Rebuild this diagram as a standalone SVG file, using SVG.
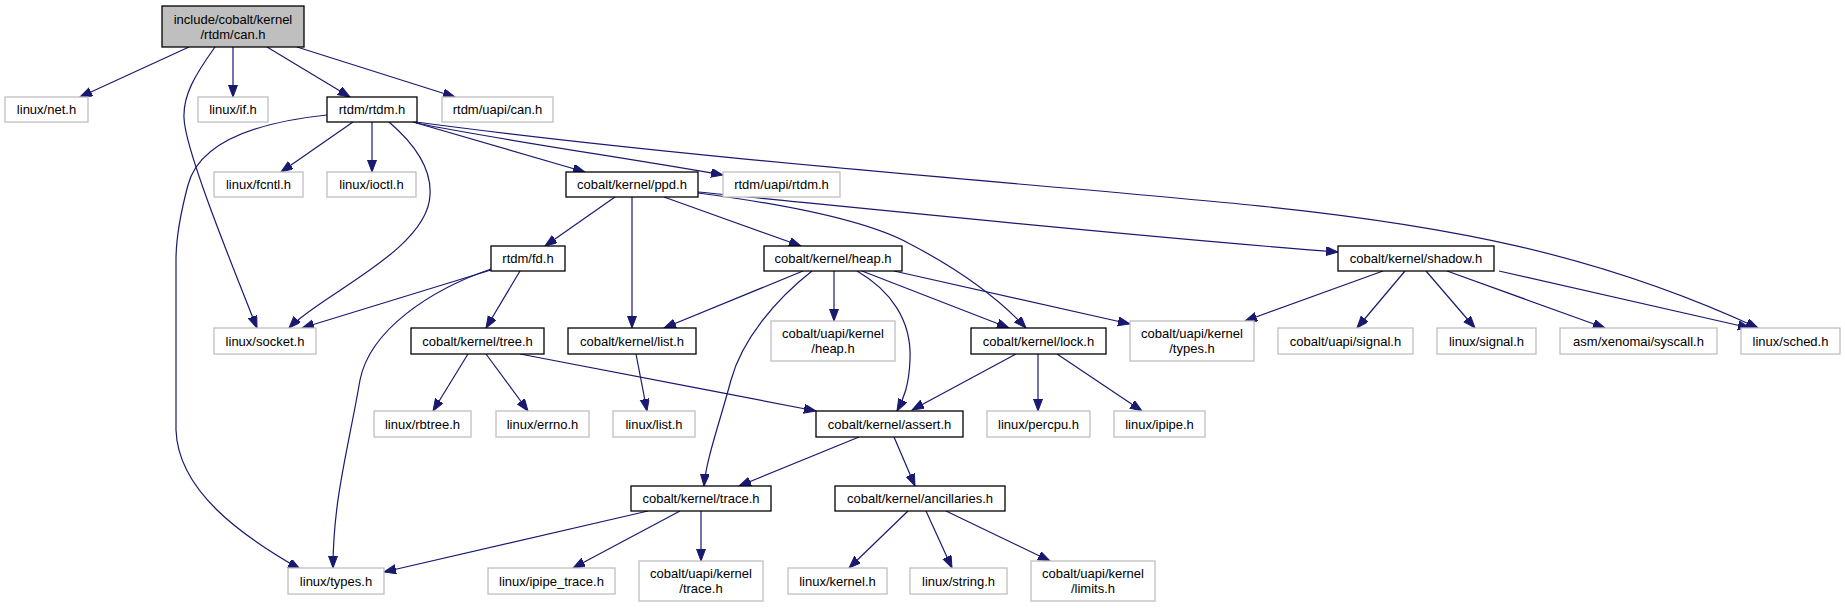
<svg xmlns="http://www.w3.org/2000/svg" width="1845" height="608" viewBox="0 0 1845 608">
<style>
.n rect{fill:#fff;stroke-width:1.3}
.g rect{stroke:#bfbfbf}
.b rect{stroke:#000}
.r rect{fill:#bfbfbf;stroke:#000}
text{font-family:"Liberation Sans",Arial,sans-serif;font-size:13px;fill:#000;text-anchor:middle}
#edges path{fill:none;stroke:#191970;stroke-width:1.2;marker-end:url(#ah)}
</style>
<defs>
<marker id="ah" markerWidth="13" markerHeight="10" refX="12" refY="4.5" orient="auto" markerUnits="userSpaceOnUse">
<path d="M0,0 L12,4.5 L0,9 z" fill="#191970" stroke="#191970" stroke-width="1"/>
</marker>
</defs>
<rect width="1845" height="608" fill="#fff"/>
<g id="edges">
<path d="M189,47 L80,97"/>
<path d="M215,47 C195,75 183,95 184,118 C185,150 232,265 257,328"/>
<path d="M233,47 L233,97"/>
<path d="M267,47 L350,97"/>
<path d="M297,47 L455,97"/>
<path d="M327,115 C260,122 200,140 188,185 C184,200 176,230 176,260 L176,430 C178,490 240,535 300,569"/>
<path d="M353,122 L281,172"/>
<path d="M372,122 L372,172"/>
<path d="M389,122 C410,140 432,165 430,195 C428,250 320,295 289,328"/>
<path d="M413,122 L585,172"/>
<path d="M416,123 C500,140 640,160 723,175"/>
<path d="M416,122 C700,160 1050,185 1250,205 C1450,225 1600,255 1758,328"/>
<path d="M615,197 L545,246"/>
<path d="M632,197 L632,328"/>
<path d="M664,197 L801,246"/>
<path d="M698,193 C790,205 870,222 910,244 C960,270 1000,300 1026,328"/>
<path d="M698,192 C900,212 1150,238 1338,252"/>
<path d="M491,270 L302,328"/>
<path d="M491,269 C430,290 370,330 360,380 C348,450 333,500 333,568"/>
<path d="M520,271 L486,328"/>
<path d="M803,271 L664,328"/>
<path d="M812,271 C775,300 742,340 731,380 C719,425 706,460 704,486"/>
<path d="M834,271 L834,321"/>
<path d="M857,271 C890,290 912,320 910,360 C909,385 904,398 897,411"/>
<path d="M862,271 L1009,328"/>
<path d="M894,271 L1130,324"/>
<path d="M1383,271 L1245,321"/>
<path d="M1405,271 L1357,328"/>
<path d="M1426,271 L1475,328"/>
<path d="M1447,271 L1605,328"/>
<path d="M1499,271 L1750,328"/>
<path d="M468,354 L433,411"/>
<path d="M486,354 L528,411"/>
<path d="M520,354 C600,370 720,392 816,411"/>
<path d="M636,354 L647,411"/>
<path d="M1016,354 L912,410"/>
<path d="M1038,354 L1038,411"/>
<path d="M1057,354 L1142,411"/>
<path d="M859,437 L739,486"/>
<path d="M894,437 L915,486"/>
<path d="M648,511 L384,572"/>
<path d="M680,511 L573,568"/>
<path d="M701,511 L701,561"/>
<path d="M908,511 L849,568"/>
<path d="M926,511 L952,568"/>
<path d="M946,511 L1050,561"/>
</g>
<g id="n_root" class="n r"><rect x="162" y="6" width="142" height="41"/><text x="233" y="23.5">include/cobalt/kernel</text><text x="233" y="38.5">/rtdm/can.h</text></g>
<g id="n_net" class="n g"><rect x="5" y="97" width="83" height="25"/><text x="46.5" y="114">linux/net.h</text></g>
<g id="n_if" class="n g"><rect x="198" y="97" width="70" height="25"/><text x="233" y="114">linux/if.h</text></g>
<g id="n_rtdm" class="n b"><rect x="327" y="97" width="90" height="25"/><text x="372" y="114">rtdm/rtdm.h</text></g>
<g id="n_ucan" class="n g"><rect x="442" y="97" width="111" height="25"/><text x="497.5" y="114">rtdm/uapi/can.h</text></g>
<g id="n_fcntl" class="n g"><rect x="214" y="172" width="89" height="25"/><text x="258.5" y="189">linux/fcntl.h</text></g>
<g id="n_ioctl" class="n g"><rect x="327" y="172" width="89" height="25"/><text x="371.5" y="189">linux/ioctl.h</text></g>
<g id="n_ppd" class="n b"><rect x="566" y="172" width="132" height="25"/><text x="632" y="189">cobalt/kernel/ppd.h</text></g>
<g id="n_urtdm" class="n g"><rect x="723" y="172" width="117" height="25"/><text x="781.5" y="189">rtdm/uapi/rtdm.h</text></g>
<g id="n_fd" class="n b"><rect x="491" y="246" width="74" height="25"/><text x="528" y="263">rtdm/fd.h</text></g>
<g id="n_heap" class="n b"><rect x="764" y="246" width="138" height="25"/><text x="833" y="263">cobalt/kernel/heap.h</text></g>
<g id="n_shadow" class="n b"><rect x="1338" y="246" width="156" height="25"/><text x="1416" y="263">cobalt/kernel/shadow.h</text></g>
<g id="n_socket" class="n g"><rect x="214" y="328" width="102" height="26"/><text x="265" y="345.5">linux/socket.h</text></g>
<g id="n_tree" class="n b"><rect x="411" y="328" width="133" height="26"/><text x="477.5" y="345.5">cobalt/kernel/tree.h</text></g>
<g id="n_list" class="n b"><rect x="568" y="328" width="128" height="26"/><text x="632" y="345.5">cobalt/kernel/list.h</text></g>
<g id="n_uheap" class="n g"><rect x="771" y="321" width="124" height="40"/><text x="833" y="338">cobalt/uapi/kernel</text><text x="833" y="353">/heap.h</text></g>
<g id="n_lock" class="n b"><rect x="971" y="328" width="135" height="26"/><text x="1038.5" y="345.5">cobalt/kernel/lock.h</text></g>
<g id="n_utypes" class="n g"><rect x="1130" y="321" width="124" height="40"/><text x="1192" y="338">cobalt/uapi/kernel</text><text x="1192" y="353">/types.h</text></g>
<g id="n_usignal" class="n g"><rect x="1278" y="328" width="135" height="26"/><text x="1345.5" y="345.5">cobalt/uapi/signal.h</text></g>
<g id="n_lsignal" class="n g"><rect x="1437" y="328" width="99" height="26"/><text x="1486.5" y="345.5">linux/signal.h</text></g>
<g id="n_syscall" class="n g"><rect x="1560" y="328" width="157" height="26"/><text x="1638.5" y="345.5">asm/xenomai/syscall.h</text></g>
<g id="n_sched" class="n g"><rect x="1741" y="328" width="99" height="26"/><text x="1790.5" y="345.5">linux/sched.h</text></g>
<g id="n_rbtree" class="n g"><rect x="374" y="411" width="97" height="26"/><text x="422.5" y="428.5">linux/rbtree.h</text></g>
<g id="n_errno" class="n g"><rect x="496" y="411" width="93" height="26"/><text x="542.5" y="428.5">linux/errno.h</text></g>
<g id="n_llist" class="n g"><rect x="613" y="411" width="82" height="26"/><text x="654" y="428.5">linux/list.h</text></g>
<g id="n_assert" class="n b"><rect x="816" y="411" width="147" height="26"/><text x="889.5" y="428.5">cobalt/kernel/assert.h</text></g>
<g id="n_percpu" class="n g"><rect x="987" y="411" width="103" height="26"/><text x="1038.5" y="428.5">linux/percpu.h</text></g>
<g id="n_ipipe" class="n g"><rect x="1114" y="411" width="91" height="26"/><text x="1159.5" y="428.5">linux/ipipe.h</text></g>
<g id="n_trace" class="n b"><rect x="631" y="486" width="140" height="25"/><text x="701" y="503">cobalt/kernel/trace.h</text></g>
<g id="n_anc" class="n b"><rect x="835" y="486" width="170" height="25"/><text x="920" y="503">cobalt/kernel/ancillaries.h</text></g>
<g id="n_types" class="n g"><rect x="288" y="568" width="96" height="26"/><text x="336" y="585.5">linux/types.h</text></g>
<g id="n_itrace" class="n g"><rect x="488" y="568" width="127" height="26"/><text x="551.5" y="585.5">linux/ipipe_trace.h</text></g>
<g id="n_utrace" class="n g"><rect x="639" y="561" width="124" height="40"/><text x="701" y="578">cobalt/uapi/kernel</text><text x="701" y="593">/trace.h</text></g>
<g id="n_kernel" class="n g"><rect x="788" y="568" width="99" height="26"/><text x="837.5" y="585.5">linux/kernel.h</text></g>
<g id="n_string" class="n g"><rect x="910" y="568" width="97" height="26"/><text x="958.5" y="585.5">linux/string.h</text></g>
<g id="n_limits" class="n g"><rect x="1031" y="561" width="124" height="40"/><text x="1093" y="578">cobalt/uapi/kernel</text><text x="1093" y="593">/limits.h</text></g>
</svg>
